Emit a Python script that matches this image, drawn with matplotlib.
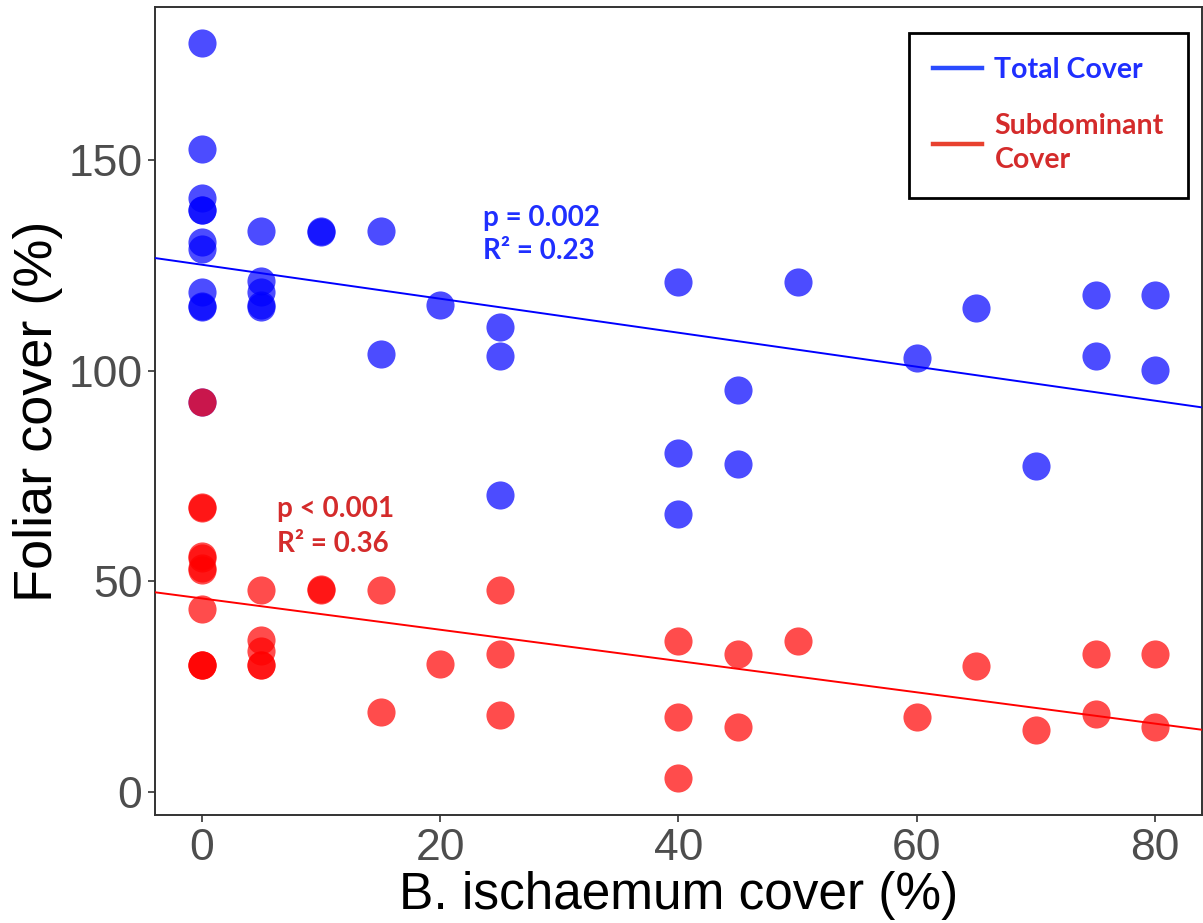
import numpy as np
import matplotlib
matplotlib.use("Agg")
import matplotlib.pyplot as plt
from matplotlib.lines import Line2D

# B. ischaemum cover (%) for each plot, with total and subdominant foliar cover (%)
bi_cover = [0, 0, 0, 0, 0, 0, 0, 0, 0, 0, 0,
            5, 5, 5, 5, 5,
            10, 10,
            15, 15,
            20,
            25, 25, 25,
            40, 40, 40,
            45, 45,
            50,
            60,
            65,
            70,
            75, 75,
            80, 80]
total_cover = [177.8, 152.6, 141.0, 138.2, 138.0, 130.5, 128.8, 118.6, 115.3, 115.0, 92.6,
               133.2, 121.2, 118.6, 115.6, 115.2,
               133.2, 133.0,
               133.2, 104.0,
               115.6,
               110.4, 103.5, 70.5,
               121.0, 80.5, 66.0,
               95.4, 77.9,
               121.0,
               103.0,
               114.9,
               77.4,
               118.0, 103.5,
               118.0, 100.2]
sub_cover = [92.5, 67.5, 67.3, 56.0, 55.6, 53.1, 52.6, 43.4, 30.2, 30.0, 30.1,
             48.0, 36.0, 33.5, 30.2, 30.0,
             48.0, 48.1,
             48.0, 19.0,
             30.4,
             48.0, 32.8, 18.3,
             35.8, 17.8, 3.3,
             32.8, 15.4,
             35.8,
             17.8,
             29.9,
             14.7,
             32.8, 18.5,
             32.8, 15.4]

x = np.array(bi_cover, dtype=float)
yt = np.array(total_cover)
ys = np.array(sub_cover)

fig = plt.figure(figsize=(12.03, 9.23), dpi=100)
ax = fig.add_axes([0.1288, 0.117, 0.870, 0.8754])

ax.scatter(x, yt, s=410, color="#0000ff", alpha=0.7, linewidths=0, zorder=2)
ax.scatter(x, ys, s=410, color="#ff0000", alpha=0.7, linewidths=0, zorder=2)

# linear fits, drawn across the whole panel
xl = np.array([-5, 90])
bt = np.polyfit(x, yt, 1)
bs = np.polyfit(x, ys, 1)
ax.plot(xl, np.polyval(bt, xl), color="#0000ff", lw=1.4, zorder=3)
ax.plot(xl, np.polyval(bs, xl), color="#ff0000", lw=1.4, zorder=3)

ax.set_xlim(-3.94, 83.9)
ax.set_ylim(-5.5, 186.3)
ax.set_xticks([0, 20, 40, 60, 80])
ax.set_yticks([0, 50, 100, 150])

for s in ax.spines.values():
    s.set_color("#333333")
    s.set_linewidth(1.4)
ax.tick_params(length=5, width=1.2, color="#333333", labelcolor="#4d4d4d",
               labelsize=32, pad=4)
for lab in ax.get_xticklabels() + ax.get_yticklabels():
    lab.set_family("Liberation Sans")

ax.set_xlabel("B. ischaemum cover (%)", fontsize=37, family="Liberation Sans",
              labelpad=2)
ax.set_ylabel("Foliar cover (%)", fontsize=39, family="Liberation Sans",
              labelpad=4)

afont = dict(family="Lato", weight="bold", fontsize=20)
ax.text(23.6, 134.3, "p = 0.002", color="#1f2fff", va="baseline", **afont)
ax.text(23.6, 126.5, "R² = 0.23", color="#1f2fff", va="baseline", **afont)
ax.text(6.3, 65.3, "p < 0.001", color="#d42b2b", va="baseline", **afont)
ax.text(6.3, 57.0, "R² = 0.36", color="#d42b2b", va="baseline", **afont)

handles = [Line2D([], [], color="#2a4bff", lw=3.2),
           Line2D([], [], color="#e8412f", lw=3.2)]
leg = ax.legend(handles, ["Total Cover", "Subdominant\nCover"],
                loc="upper right", bbox_to_anchor=(0.987, 0.968),
                prop=dict(family="Lato", weight="bold", size=20.5),
                labelcolor=["#1f2fff", "#d42b2b"],
                frameon=True, fancybox=False, framealpha=1,
                handlelength=1.7, handletextpad=0.45, borderpad=0.85,
                labelspacing=1.05, borderaxespad=0)
leg.get_texts()[1].set_linespacing(1.4)
leg.get_frame().set_edgecolor("black")
leg.get_frame().set_linewidth(2)

fig.savefig("out.png", dpi=100)
